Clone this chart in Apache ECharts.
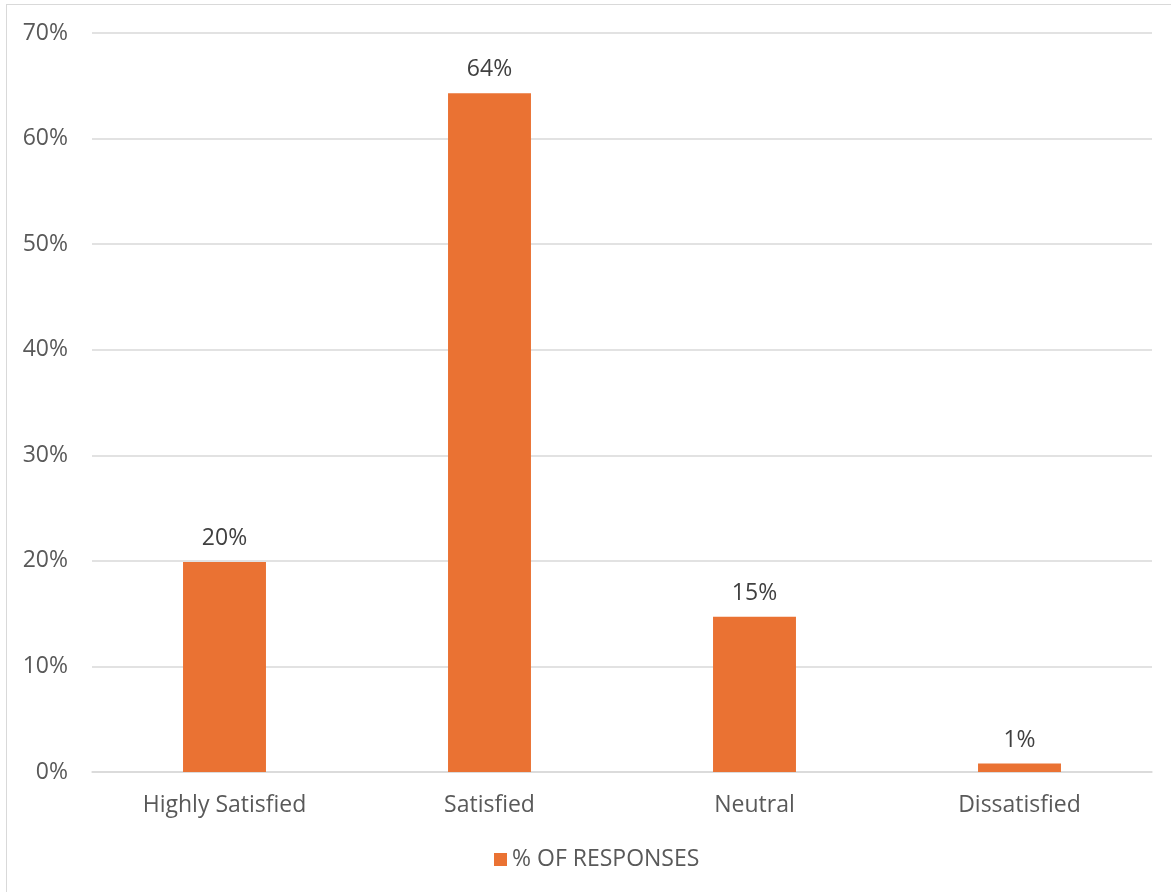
<!DOCTYPE html>
<html>
<head>
<meta charset="utf-8">
<script src="https://cdn.jsdelivr.net/npm/echarts@6/dist/echarts.min.js"></script>
<style>
html,body{margin:0;padding:0;background:#fff;}
#frame{position:absolute;left:6px;top:4px;width:1180px;height:900px;border:1px solid #d9d9d9;box-sizing:border-box;}
#chart{position:absolute;left:0;top:0;width:1171px;height:892px;}
</style>
</head>
<body>
<div id="frame"></div>
<div id="chart"></div>
<script>
const categories = ["Highly Satisfied", "Satisfied", "Neutral", "Dissatisfied"];
const responses = [19.9, 64.3, 14.7, 0.8];
const seriesName = "% OF RESPONSES";
const yTicks = { min: 0, max: 70, interval: 10 };

const chart = echarts.init(document.getElementById('chart'), null, {renderer: 'canvas'});
const font = "'Open Sans', 'Liberation Sans', sans-serif";
chart.setOption({
  animation: false,
  grid: { left: 92, right: 19, top: 33, bottom: 120, containLabel: false },
  legend: {
    data: [seriesName],
    bottom: 16,
    left: 489,
    itemWidth: 13, itemHeight: 13, itemGap: 7,
    icon: 'rect',
    textStyle: { color: '#595959', fontSize: 23, fontFamily: font }
  },
  xAxis: {
    type: 'category',
    data: categories,
    axisLine: { lineStyle: { color: '#d9d9d9', width: 1.5 } },
    axisTick: { show: false },
    axisLabel: { color: '#595959', fontSize: 23, fontFamily: font, margin: 22 }
  },
  yAxis: {
    type: 'value',
    min: yTicks.min, max: yTicks.max, interval: yTicks.interval,
    axisLine: { show: false },
    axisTick: { show: false },
    splitLine: { lineStyle: { color: '#d9d9d9', width: 1.5 } },
    axisLabel: { color: '#595959', fontSize: 23, fontFamily: font, margin: 24, formatter: v => v + '%' }
  },
  series: [{
    name: seriesName,
    type: 'bar',
    data: responses,
    barWidth: '31.3%',
    itemStyle: { color: '#ea7233' },
    label: {
      show: true, position: 'top', distance: 12,
      color: '#404040', fontSize: 23, fontFamily: font,
      formatter: p => Math.round(p.value) + '%'
    }
  }]
});
</script>
</body>
</html>
